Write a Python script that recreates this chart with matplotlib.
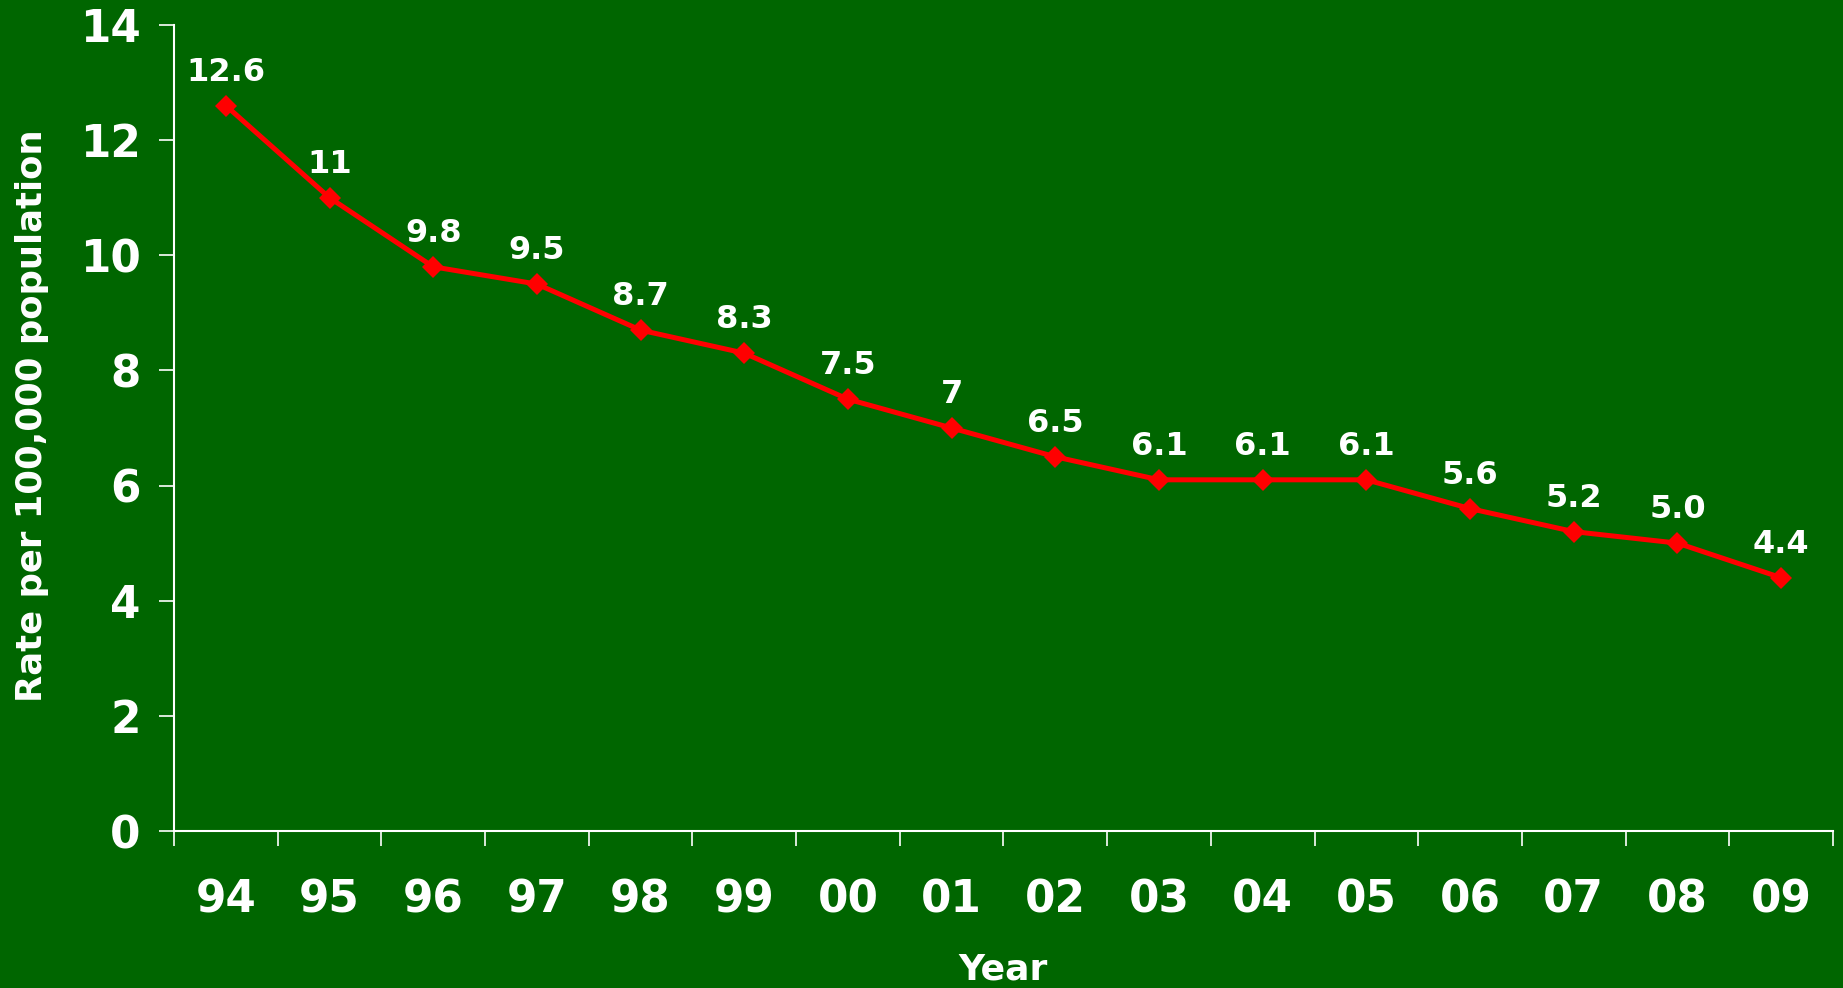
import matplotlib
matplotlib.use("Agg")
import matplotlib.pyplot as plt

years = ["94", "95", "96", "97", "98", "99", "00", "01", "02", "03", "04", "05", "06", "07", "08", "09"]
rates = [12.6, 11.0, 9.8, 9.5, 8.7, 8.3, 7.5, 7.0, 6.5, 6.1, 6.1, 6.1, 5.6, 5.2, 5.0, 4.4]
labels = ["12.6", "11", "9.8", "9.5", "8.7", "8.3", "7.5", "7", "6.5", "6.1", "6.1", "6.1", "5.6", "5.2", "5.0", "4.4"]
yticks = [0, 2, 4, 6, 8, 10, 12, 14]

BG = "#006600"
plt.rcParams['font.family'] = ['DejaVu Sans']
plt.rcParams['font.weight'] = 'bold'

fig = plt.figure(figsize=(18.43, 9.88), dpi=100, facecolor=BG)
ax = fig.add_axes([174/1843, 1-831/988, (1833-174)/1843, (831-25)/988])
ax.set_facecolor(BG)

x = list(range(len(years)))
ax.plot(x, rates, color="#FF0000", linewidth=3.6, marker="D", markersize=11.5,
        markeredgewidth=0, zorder=3)
for xi, yi, lab in zip(x, rates, labels):
    ax.annotate(lab, (xi, yi), xytext=(0, 18), textcoords="offset points",
                ha="center", va="baseline", color="white", fontsize=23,
                fontweight="bold")

ax.set_xlim(-0.5, len(years) - 0.5)
ax.set_ylim(0, 14)
ax.set_yticks(yticks)
ax.set_yticklabels([str(t) for t in yticks])
ax.set_xticks(x)
ax.set_xticklabels(years)
ax.set_xticks([i - 0.5 for i in range(len(years) + 1)], minor=True)

for s in ["top", "right"]:
    ax.spines[s].set_visible(False)
for s in ["left", "bottom"]:
    ax.spines[s].set_color("white")
    ax.spines[s].set_linewidth(1.5)

ax.tick_params(axis="y", colors="white", labelsize=31.5, length=11, width=1.2, pad=13)
ax.tick_params(axis="x", which="major", colors="white", labelsize=31.5, length=0, pad=34)
ax.tick_params(axis="x", which="minor", colors="white", length=11, width=1.2)
for lab in ax.get_xticklabels() + ax.get_yticklabels():
    lab.set_fontweight("bold")

ax.set_ylabel("Rate per 100,000 population", color="white", fontsize=25.5, fontweight="bold")
ax.yaxis.set_label_coords(-0.0753, 0.515)
ax.set_xlabel("Year", color="white", fontsize=26, fontweight="bold", va="center")
ax.xaxis.set_label_coords(0.5, -0.172)

fig.savefig("out.png", dpi=100, facecolor=BG)
